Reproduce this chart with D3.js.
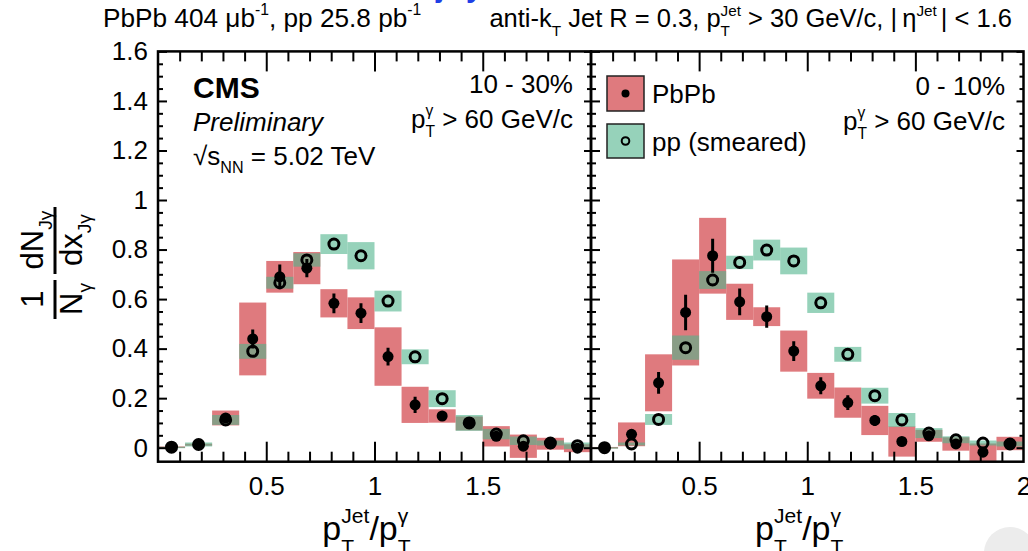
<!DOCTYPE html>
<html>
<head>
<meta charset="utf-8">
<script src="https://cdn.jsdelivr.net/npm/d3@7"></script>
<style>
  html, body { margin: 0; padding: 0; background: #fff; }
  svg { display: block; font-family: "Liberation Sans", Arial, Helvetica, sans-serif; }
  text { white-space: pre; }
</style>
</head>
<body>
<svg id="chart" width="1028" height="551"></svg>
<script>
// ---- data: photon-tagged jet momentum balance x_Jγ = pT(jet)/pT(γ) ----
const binEdges = [0, 0.125, 0.25, 0.375, 0.5, 0.625, 0.75, 0.875, 1, 1.125, 1.25, 1.375, 1.5, 1.625, 1.75, 1.875, 2];

// 10 - 30% centrality
const pbpbMid = [0.002, 0.012, 0.12, 0.439, 0.69, 0.725, 0.583, 0.543, 0.368, 0.173, 0.128, 0.098, 0.046, 0.006, 0.016, -0.002];
const pbpbMidStat = [0.004, 0.006, 0.02, 0.038, 0.05, 0.037, 0.04, 0.04, 0.036, 0.033, 0.02, 0.018, 0.015, 0.012, 0.01, 0.008];
const pbpbMidSys = [0.003, 0.004, 0.03, 0.147, 0.064, 0.065, 0.057, 0.064, 0.118, 0.073, 0.027, 0.028, 0.041, 0.047, 0.024, 0.016];
const ppMid = [0.002, 0.013, 0.112, 0.389, 0.666, 0.758, 0.822, 0.775, 0.592, 0.367, 0.198, 0.1, 0.055, 0.028, 0.019, 0.008];
const ppMidSys = [0.002, 0.008, 0.02, 0.03, 0.024, 0.027, 0.04, 0.055, 0.042, 0.03, 0.034, 0.032, 0.021, 0.017, 0.01, 0.013];

// 0 - 10% centrality
const pbpbCentral = [0.0, 0.054, 0.262, 0.546, 0.775, 0.589, 0.529, 0.39, 0.25, 0.182, 0.11, 0.025, 0.048, 0.015, -0.018, 0.017];
const pbpbCentralStat = [0.004, 0.02, 0.044, 0.072, 0.069, 0.054, 0.045, 0.04, 0.034, 0.03, 0.022, 0.015, 0.015, 0.012, 0.012, 0.01];
const pbpbCentralSys = [0.003, 0.048, 0.115, 0.214, 0.153, 0.073, 0.038, 0.083, 0.052, 0.061, 0.059, 0.061, 0.024, 0.027, 0.035, 0.027];
const ppCentral = [0.0, 0.015, 0.114, 0.404, 0.677, 0.748, 0.798, 0.754, 0.585, 0.377, 0.21, 0.112, 0.059, 0.032, 0.019, 0.015];
const ppCentralSys = [0.002, 0.006, 0.022, 0.049, 0.036, 0.027, 0.042, 0.054, 0.041, 0.03, 0.032, 0.028, 0.02, 0.014, 0.01, 0.01];

// axis ticks
const yMajorTicks = [0, 0.2, 0.4, 0.6, 0.8, 1, 1.2, 1.4, 1.6];
const xMajorTicks = [0.5, 1, 1.5, 2];

// ---- styling ----
const RED = "#df7a7e";
const GREEN = "rgba(80,180,140,0.6)";
const FONT = 26;

const svg = d3.select("#chart");

// lay out a run of text pieces with stacked sub/superscripts
function rich(parent, x, y, parts, o = {}) {
  const size = o.size || FONT, anchor = o.anchor || "start";
  const g = parent.append("g");
  let cx = 0;
  const piece = (str, fs, dy) => {
    const t = g.append("text").attr("x", cx).attr("y", dy)
      .style("font-size", fs + "px").attr("fill", o.fill || "#000").text(str);
    if (o.weight) t.style("font-weight", o.weight);
    if (o.italic) t.style("font-style", "italic");
    return t.node().getComputedTextLength();
  };
  parts.forEach(p => {
    if (typeof p === "string") {
      cx += piece(p, size, 0);
    } else {
      const s = size * (p.scale || 0.62);
      let w = 0;
      if (p.sup) w = Math.max(w, piece(p.sup, s, -size * (p.supShift || 0.45)));
      if (p.sub) w = Math.max(w, piece(p.sub, s, size * (p.subShift || 0.36)));
      cx += w + (p.pad || 0);
    }
  });
  const shift = anchor === "end" ? -cx : anchor === "middle" ? -cx / 2 : 0;
  g.attr("transform", `translate(${x + shift},${y})`);
  return g;
}

// ---- frame geometry ----
const frameTop = 51.4, frameBottom = 461.7;
const y = d3.scaleLinear([0, 1.6], [447.7, frameTop]);

const panels = [
  { x: d3.scaleLinear([0, 2], [158, 591]), pbpb: pbpbMid, stat: pbpbMidStat, sys: pbpbMidSys,
    pp: ppMid, ppSys: ppMidSys, labels: [0.5, 1, 1.5], yLabels: true, id: "mid" },
  { x: d3.scaleLinear([0, 2], [591, 1023.5]), pbpb: pbpbCentral, stat: pbpbCentralStat, sys: pbpbCentralSys,
    pp: ppCentral, ppSys: ppCentralSys, labels: [0.5, 1, 1.5, 2], yLabels: false, id: "central" }
];

const xMinor = d3.range(1, 20).map(d => d / 10).filter(d => !xMajorTicks.some(m => Math.abs(m - d) < 1e-6));
const yMinor = d3.range(1, 32).map(d => d * 0.05).filter(d => !yMajorTicks.some(m => Math.abs(m - d) < 1e-6));

panels.forEach(p => {
  const [x0, x1] = p.x.range();
  const g = svg.append("g");

  g.append("clipPath").attr("id", "clip-" + p.id)
    .append("rect").attr("x", x0).attr("y", frameTop).attr("width", x1 - x0).attr("height", frameBottom - frameTop);
  const plot = g.append("g").attr("clip-path", `url(#clip-${p.id})`);

  const bins = binEdges.slice(0, -1).map((lo, i) => ({ lo, hi: binEdges[i + 1], c: (lo + binEdges[i + 1]) / 2, i }));

  const box = (sel, vals, sys, fill) => sel.selectAll(null).data(bins).join("rect")
    .attr("x", d => p.x(d.lo)).attr("width", d => p.x(d.hi) - p.x(d.lo))
    .attr("y", d => y(vals[d.i] + sys[d.i]))
    .attr("height", d => Math.max(1.5, y(vals[d.i] - sys[d.i]) - y(vals[d.i] + sys[d.i])))
    .attr("fill", fill);

  // systematic uncertainty boxes
  box(plot.append("g"), p.pbpb, p.sys, RED);
  box(plot.append("g"), p.pp, p.ppSys, GREEN);

  // PbPb statistical bars and markers
  plot.append("g").selectAll(null).data(bins).join("line")
    .attr("x1", d => p.x(d.c)).attr("x2", d => p.x(d.c))
    .attr("y1", d => y(p.pbpb[d.i] + p.stat[d.i])).attr("y2", d => y(p.pbpb[d.i] - p.stat[d.i]))
    .attr("stroke", "#000").attr("stroke-width", 3);
  plot.append("g").selectAll(null).data(bins).join("circle")
    .attr("cx", d => p.x(d.c)).attr("cy", d => y(p.pbpb[d.i])).attr("r", 5.5).attr("fill", "#000");

  // pp open markers
  plot.append("g").selectAll(null).data(bins).join("circle")
    .attr("cx", d => p.x(d.c)).attr("cy", d => y(p.pp[d.i])).attr("r", 5)
    .attr("fill", "none").attr("stroke", "#000").attr("stroke-width", 3);

  // axes: ticks point inward on all four sides
  const tickStyle = s => s.call(a => a.select(".domain").remove())
    .call(a => a.selectAll(".tick line").attr("stroke", "#000").attr("stroke-width", 2));

  g.append("g").attr("transform", `translate(0,${frameBottom})`)
    .call(d3.axisBottom(p.x).tickValues(xMajorTicks.filter(t => t < 2)).tickSize(-20).tickFormat(""))
    .call(tickStyle);
  g.append("g").attr("transform", `translate(0,${frameBottom})`)
    .call(d3.axisBottom(p.x).tickValues(xMinor).tickSize(-10).tickFormat(""))
    .call(tickStyle);
  g.append("g").attr("transform", `translate(0,${frameTop})`)
    .call(d3.axisTop(p.x).tickValues(xMajorTicks.filter(t => t < 2)).tickSize(-20).tickFormat(""))
    .call(tickStyle);
  g.append("g").attr("transform", `translate(0,${frameTop})`)
    .call(d3.axisTop(p.x).tickValues(xMinor).tickSize(-10).tickFormat(""))
    .call(tickStyle);

  // x tick labels
  g.append("g").attr("transform", `translate(0,${frameBottom})`)
    .call(d3.axisBottom(p.x).tickValues(p.labels).tickSize(0).tickPadding(15).tickFormat(d3.format("~g")))
    .call(a => a.select(".domain").remove())
    .call(a => a.selectAll("text").attr("fill", "#000").style("font-size", FONT + "px")
      .style("font-family", "'Liberation Sans', Arial, sans-serif"));

  g.append("g").attr("transform", `translate(${x0},0)`)
    .call(d3.axisLeft(y).tickValues(yMajorTicks).tickSize(-9).tickFormat(""))
    .call(tickStyle);
  g.append("g").attr("transform", `translate(${x0},0)`)
    .call(d3.axisLeft(y).tickValues(yMinor).tickSize(-5).tickFormat(""))
    .call(tickStyle);
  g.append("g").attr("transform", `translate(${x1},0)`)
    .call(d3.axisRight(y).tickValues(yMajorTicks).tickSize(-7).tickFormat(""))
    .call(tickStyle);
  g.append("g").attr("transform", `translate(${x1},0)`)
    .call(d3.axisRight(y).tickValues(yMinor).tickSize(-4).tickFormat(""))
    .call(tickStyle);

  if (p.yLabels) {
    g.append("g").attr("transform", `translate(${x0},0)`)
      .call(d3.axisLeft(y).tickValues(yMajorTicks).tickSize(0).tickPadding(10).tickFormat(d3.format("~g")))
      .call(a => a.select(".domain").remove())
      .call(a => a.selectAll("text").attr("fill", "#000").style("font-size", FONT + "px")
        .style("font-family", "'Liberation Sans', Arial, sans-serif"));
  }

  // frame
  g.append("rect").attr("x", x0).attr("y", frameTop).attr("width", x1 - x0).attr("height", frameBottom - frameTop)
    .attr("fill", "none").attr("stroke", "#000").attr("stroke-width", 2.5);

  // x-axis title
  rich(g, (x0 + x1) / 2 - 8, 540, ["p", { sub: "T", sup: "Jet", subShift: 0.4, supShift: 0.5 }, "/p", { sub: "T", sup: "γ", subShift: 0.4, supShift: 0.5 }],
    { size: 34, anchor: "middle" });
});

// ---- y-axis title (rotated fraction) ----
const yt = svg.append("g").attr("transform", "translate(55,0) rotate(-90)");
rich(yt, -299, -12, ["1"], { size: 31, anchor: "middle" });
rich(yt, -299, 27, ["N", { sub: "γ", subShift: 0.3 }], { size: 31, anchor: "middle" });
yt.append("line").attr("x1", -319).attr("x2", -280).attr("y1", 0).attr("y2", 0).attr("stroke", "#000").attr("stroke-width", 3);
rich(yt, -240, -12, ["dN", { sub: "Jγ", subShift: 0.3 }], { size: 31, anchor: "middle" });
rich(yt, -240, 27, ["dx", { sub: "Jγ", subShift: 0.3 }], { size: 31, anchor: "middle" });
yt.append("line").attr("x1", -274).attr("x2", -207).attr("y1", 0).attr("y2", 0).attr("stroke", "#000").attr("stroke-width", 3);

// ---- header lines ----
rich(svg, 103, 27, ["PbPb 404 μb", { sup: "-1", scale: 0.6 }, ", pp 25.8 pb", { sup: "-1", scale: 0.6 }], { size: 26.2 });
rich(svg, 1012, 27, ["anti-k", { sub: "T", scale: 0.6 }, " Jet R = 0.3, p", { sub: "T", sup: "Jet", scale: 0.6 },
  " > 30 GeV/c, |\u2009η", { sup: "Jet", scale: 0.6, pad: 4 }, "| < 1.6"], { size: 25.5, anchor: "end" });

// ---- panel annotations ----
rich(svg, 193, 98, ["CMS"], { size: 30, weight: "bold" });
rich(svg, 193, 131, ["Preliminary"], { size: 26, italic: true });
rich(svg, 193, 165, ["√s", { sub: "NN", scale: 0.62, subShift: 0.3 }, " = 5.02 TeV"], { size: 26 });

rich(svg, 573, 93, ["10 - 30%"], { size: 26, anchor: "end" });
rich(svg, 573, 128, ["p", { sub: "T", sup: "γ", scale: 0.6 }, " > 60 GeV/c"], { size: 26, anchor: "end" });
rich(svg, 1005, 95, ["0 - 10%"], { size: 26, anchor: "end" });
rich(svg, 1005, 130, ["p", { sub: "T", sup: "γ", scale: 0.6 }, " > 60 GeV/c"], { size: 26, anchor: "end" });

// ---- legend ----
const legend = svg.append("g");
legend.append("rect").attr("x", 607).attr("y", 76).attr("width", 37).attr("height", 35)
  .attr("fill", RED).attr("stroke", "#222").attr("stroke-width", 1.5);
legend.append("circle").attr("cx", 625.5).attr("cy", 93.5).attr("r", 4).attr("fill", "#000");
legend.append("rect").attr("x", 607).attr("y", 124).attr("width", 37).attr("height", 34)
  .attr("fill", GREEN).attr("stroke", "#222").attr("stroke-width", 1.5);
legend.append("circle").attr("cx", 625.5).attr("cy", 141).attr("r", 3.8).attr("fill", "none")
  .attr("stroke", "#000").attr("stroke-width", 2);
rich(legend, 652, 103, ["PbPb"], { size: 26 });
rich(legend, 652, 151, ["pp (smeared)"], { size: 26 });

// ---- clipped title line above the header ----
rich(svg, 436, -3, ["j"], { size: 30, weight: "bold", fill: "#1f3fe6" });
rich(svg, 466, -3, ["y"], { size: 30, weight: "bold", fill: "#1f3fe6" });

// ---- viewer overlay button in the corner ----
svg.append("circle").attr("cx", 1010).attr("cy", 553).attr("r", 26).attr("fill", "#ececec");
</script>
</body>
</html>
